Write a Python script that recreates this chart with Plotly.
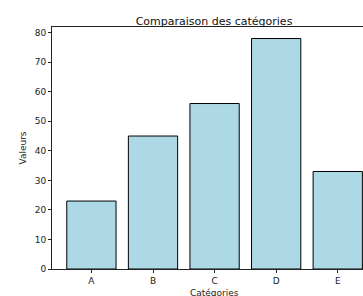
import plotly.graph_objects as go

categories = ["A", "B", "C", "D", "E"]
values = [23, 45, 56, 78, 33]
y_ticks = [0, 10, 20, 30, 40, 50, 60, 70, 80]

W, H = 363, 296
L, R, T, B = 52, 0, 27, 27
font = "DejaVu Sans"

fig = go.Figure(go.Bar(
    x=list(range(len(categories))),
    y=values,
    width=0.8,
    marker=dict(color="#ADD8E6", line=dict(color="#000000", width=1)),
))

fig.update_layout(
    width=W, height=H,
    margin=dict(l=L, r=R, t=T, b=B, pad=0, autoexpand=False),
    plot_bgcolor="white", paper_bgcolor="white",
    showlegend=False,
    font=dict(family=font, size=9, color="#222222"),
    title=dict(text="Comparaison des catégories", font=dict(size=11, color="#111111"),
               x=214 / W, xref="container", xanchor="center",
               y=1 - 25 / H, yref="container", yanchor="bottom",
               automargin=False),
)
fig.add_annotation(
    text="Catégories", xref="paper", yref="paper",
    x=(214 - L) / (W - L - R), y=0, xanchor="center", yanchor="top",
    yshift=-17, showarrow=False, font=dict(size=9, color="#222222"),
)
fig.update_xaxes(
    range=[-0.64, 4.41], automargin=False,
    tickmode="array", tickvals=list(range(len(categories))), ticktext=categories,
    ticks="outside", ticklen=3, tickwidth=1, tickcolor="#222222",
    showline=True, linecolor="#222222", linewidth=1, mirror=True,
    showgrid=False, zeroline=False,
)
fig.update_yaxes(
    range=[0, 81.9], automargin=False,
    tickmode="array", tickvals=y_ticks,
    ticks="outside", ticklen=3, tickwidth=1, tickcolor="#222222",
    showline=True, linecolor="#222222", linewidth=1,
    showgrid=False, zeroline=False,
    title=dict(text="Valeurs", font=dict(size=9), standoff=6),
)

fig.write_html(
    "out.html",
    config={"displayModeBar": False},
    post_script="document.body.style.margin='0';document.body.style.padding='0';"
                "document.body.style.overflow='hidden';"
                "document.documentElement.style.overflow='hidden';",
)
